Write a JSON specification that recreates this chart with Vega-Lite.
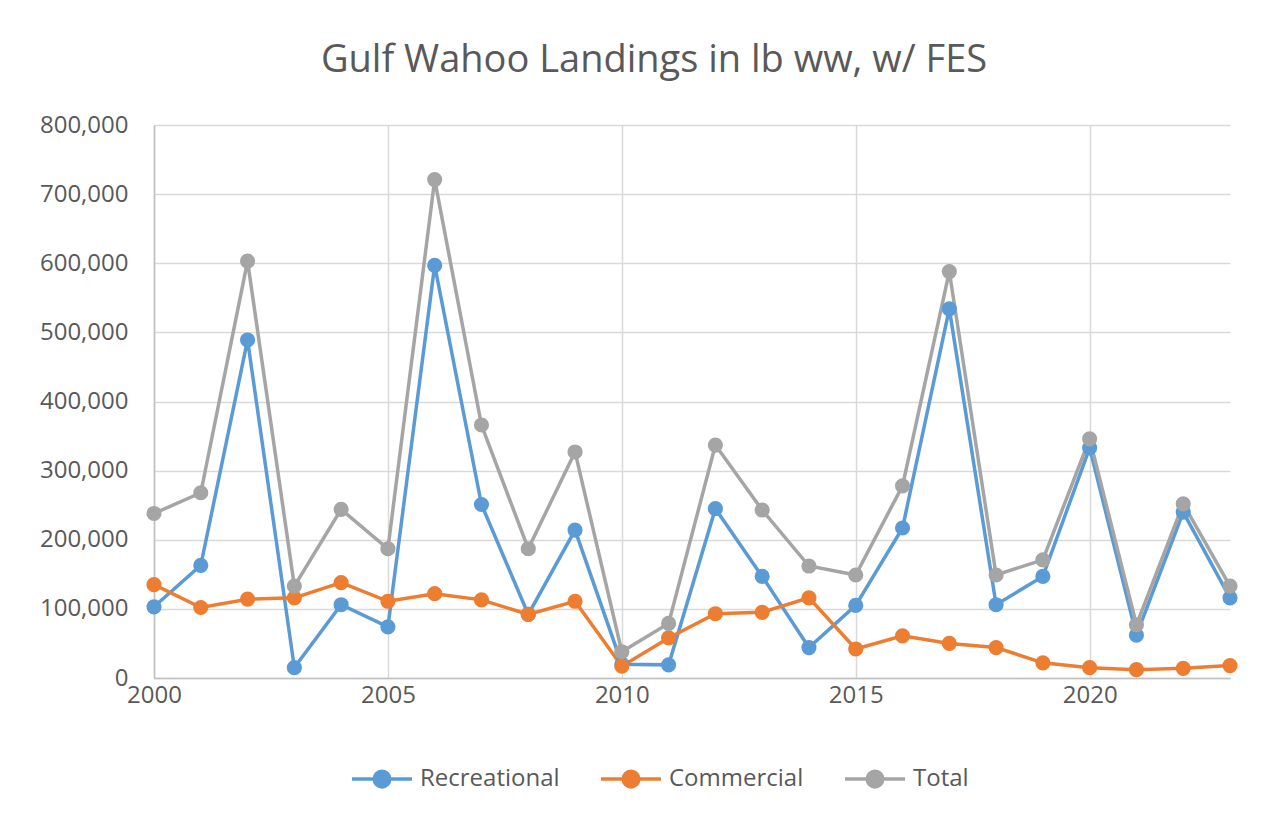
{
  "$schema": "https://vega.github.io/schema/vega-lite/v6.json",
  "width": 1076,
  "height": 553,
  "autosize": {"type": "none"},
  "padding": {"left": 154, "top": 125, "right": 53, "bottom": 142},
  "background": "white",
  "title": {
    "text": "Gulf Wahoo Landings in lb ww, w/ FES",
    "fontSize": 38,
    "font": "Open Sans",
    "fontWeight": "normal",
    "color": "#595959",
    "anchor": "middle",
    "frame": "group",
    "dx": -38,
    "baseline": "alphabetic",
    "offset": 3
  },
  "config": {
    "view": {"stroke": null},
    "font": "Open Sans"
  },
  "data": {
    "values": [
      {"year": 2000, "series": "Recreational", "lb": 103000},
      {"year": 2001, "series": "Recreational", "lb": 163000},
      {"year": 2002, "series": "Recreational", "lb": 489000},
      {"year": 2003, "series": "Recreational", "lb": 15000},
      {"year": 2004, "series": "Recreational", "lb": 106000},
      {"year": 2005, "series": "Recreational", "lb": 74000},
      {"year": 2006, "series": "Recreational", "lb": 597000},
      {"year": 2007, "series": "Recreational", "lb": 251000},
      {"year": 2008, "series": "Recreational", "lb": 92000},
      {"year": 2009, "series": "Recreational", "lb": 214000},
      {"year": 2010, "series": "Recreational", "lb": 20000},
      {"year": 2011, "series": "Recreational", "lb": 19000},
      {"year": 2012, "series": "Recreational", "lb": 245000},
      {"year": 2013, "series": "Recreational", "lb": 147000},
      {"year": 2014, "series": "Recreational", "lb": 44000},
      {"year": 2015, "series": "Recreational", "lb": 105000},
      {"year": 2016, "series": "Recreational", "lb": 217000},
      {"year": 2017, "series": "Recreational", "lb": 534000},
      {"year": 2018, "series": "Recreational", "lb": 106000},
      {"year": 2019, "series": "Recreational", "lb": 147000},
      {"year": 2020, "series": "Recreational", "lb": 333000},
      {"year": 2021, "series": "Recreational", "lb": 62000},
      {"year": 2022, "series": "Recreational", "lb": 240000},
      {"year": 2023, "series": "Recreational", "lb": 116000},
      {"year": 2000, "series": "Commercial", "lb": 135000},
      {"year": 2001, "series": "Commercial", "lb": 102000},
      {"year": 2002, "series": "Commercial", "lb": 114000},
      {"year": 2003, "series": "Commercial", "lb": 116000},
      {"year": 2004, "series": "Commercial", "lb": 138000},
      {"year": 2005, "series": "Commercial", "lb": 111000},
      {"year": 2006, "series": "Commercial", "lb": 122000},
      {"year": 2007, "series": "Commercial", "lb": 113000},
      {"year": 2008, "series": "Commercial", "lb": 92000},
      {"year": 2009, "series": "Commercial", "lb": 111000},
      {"year": 2010, "series": "Commercial", "lb": 17000},
      {"year": 2011, "series": "Commercial", "lb": 58000},
      {"year": 2012, "series": "Commercial", "lb": 93000},
      {"year": 2013, "series": "Commercial", "lb": 95000},
      {"year": 2014, "series": "Commercial", "lb": 116000},
      {"year": 2015, "series": "Commercial", "lb": 42000},
      {"year": 2016, "series": "Commercial", "lb": 61000},
      {"year": 2017, "series": "Commercial", "lb": 50000},
      {"year": 2018, "series": "Commercial", "lb": 44000},
      {"year": 2019, "series": "Commercial", "lb": 22000},
      {"year": 2020, "series": "Commercial", "lb": 15000},
      {"year": 2021, "series": "Commercial", "lb": 12000},
      {"year": 2022, "series": "Commercial", "lb": 14000},
      {"year": 2023, "series": "Commercial", "lb": 18000},
      {"year": 2000, "series": "Total", "lb": 238000},
      {"year": 2001, "series": "Total", "lb": 268000},
      {"year": 2002, "series": "Total", "lb": 603000},
      {"year": 2003, "series": "Total", "lb": 133000},
      {"year": 2004, "series": "Total", "lb": 244000},
      {"year": 2005, "series": "Total", "lb": 187000},
      {"year": 2006, "series": "Total", "lb": 721000},
      {"year": 2007, "series": "Total", "lb": 366000},
      {"year": 2008, "series": "Total", "lb": 187000},
      {"year": 2009, "series": "Total", "lb": 327000},
      {"year": 2010, "series": "Total", "lb": 38000},
      {"year": 2011, "series": "Total", "lb": 79000},
      {"year": 2012, "series": "Total", "lb": 337000},
      {"year": 2013, "series": "Total", "lb": 243000},
      {"year": 2014, "series": "Total", "lb": 162000},
      {"year": 2015, "series": "Total", "lb": 149000},
      {"year": 2016, "series": "Total", "lb": 278000},
      {"year": 2017, "series": "Total", "lb": 588000},
      {"year": 2018, "series": "Total", "lb": 149000},
      {"year": 2019, "series": "Total", "lb": 171000},
      {"year": 2020, "series": "Total", "lb": 346000},
      {"year": 2021, "series": "Total", "lb": 77000},
      {"year": 2022, "series": "Total", "lb": 252000},
      {"year": 2023, "series": "Total", "lb": 133000}
    ]
  },
  "mark": {
    "type": "line",
    "strokeWidth": 3.5,
    "point": {"filled": true, "size": 230, "opacity": 1}
  },
  "encoding": {
    "x": {
      "field": "year",
      "type": "quantitative",
      "scale": {"domain": [2000, 2023], "nice": false, "zero": false},
      "axis": {
        "title": null,
        "values": [2000, 2005, 2010, 2015, 2020],
        "format": "d",
        "labelFlush": false,
        "labelFontSize": 24,
        "labelColor": "#595959",
        "labelPadding": 5,
        "ticks": false,
        "domainColor": "#bfbfbf",
        "domainWidth": 1.5,
        "gridColor": "#d9d9d9",
        "gridWidth": 1.5
      }
    },
    "y": {
      "field": "lb",
      "type": "quantitative",
      "scale": {"domain": [0, 800000], "nice": false},
      "axis": {
        "title": null,
        "values": [0, 100000, 200000, 300000, 400000, 500000, 600000, 700000, 800000],
        "format": ",d",
        "labelFontSize": 24,
        "labelColor": "#595959",
        "labelPadding": 26,
        "ticks": false,
        "domain": true,
        "domainColor": "#bfbfbf",
        "domainWidth": 1.5,
        "gridColor": "#d9d9d9",
        "gridWidth": 1.5
      }
    },
    "color": {
      "field": "series",
      "type": "nominal",
      "sort": ["Recreational", "Commercial", "Total"],
      "scale": {
        "domain": ["Recreational", "Commercial", "Total"],
        "range": ["#5B9BD5", "#ED7D31", "#A5A5A5"]
      },
      "legend": {
        "title": null,
        "orient": "none",
        "direction": "horizontal",
        "legendX": 196,
        "legendY": 622,
        "padding": 0,
        "symbolType": "M-1,0L1,0M-0.26,0A0.26,0.26,0,1,1,0.26,0A0.26,0.26,0,1,1,-0.26,0Z",
        "symbolSize": 3600,
        "symbolStrokeWidth": 3.5,
        "labelFontSize": 24,
        "labelColor": "#595959",
        "labelOffset": 6,
        "columnPadding": 34,
        "encode": {
          "symbols": {
            "update": {
              "fill": {"scale": "color", "field": "value"},
              "stroke": {"scale": "color", "field": "value"},
              "opacity": {"value": 1}
            }
          }
        }
      }
    }
  }
}
